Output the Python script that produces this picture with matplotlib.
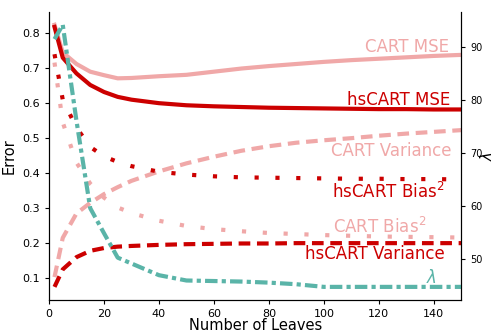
import numpy as np
import matplotlib
matplotlib.use("Agg")
from matplotlib import pyplot as plt

# number of leaves
leaves = [2, 5, 10, 15, 20, 25, 30, 40, 50, 60, 70, 80, 90, 100, 110, 120, 130, 140, 150]

cart_mse = [0.824, 0.745, 0.712, 0.690, 0.680, 0.671, 0.672, 0.677, 0.681, 0.690,
            0.699, 0.706, 0.712, 0.718, 0.723, 0.727, 0.731, 0.735, 0.738]
hscart_mse = [0.818, 0.730, 0.685, 0.652, 0.632, 0.618, 0.610, 0.600, 0.594, 0.591,
              0.589, 0.587, 0.586, 0.585, 0.584, 0.583, 0.583, 0.582, 0.582]
cart_var = [0.103, 0.215, 0.285, 0.315, 0.340, 0.360, 0.378, 0.405, 0.428, 0.447,
            0.464, 0.477, 0.487, 0.494, 0.500, 0.507, 0.513, 0.518, 0.523]
hscart_var = [0.075, 0.125, 0.160, 0.178, 0.186, 0.190, 0.192, 0.195, 0.197, 0.198,
              0.199, 0.199, 0.200, 0.200, 0.200, 0.200, 0.200, 0.200, 0.200]
cart_bias = [0.716, 0.545, 0.430, 0.370, 0.330, 0.302, 0.286, 0.264, 0.249, 0.240,
             0.234, 0.229, 0.226, 0.223, 0.221, 0.219, 0.218, 0.217, 0.216]
hscart_bias = [0.740, 0.610, 0.530, 0.475, 0.448, 0.432, 0.420, 0.404, 0.396, 0.391,
               0.388, 0.387, 0.386, 0.385, 0.384, 0.384, 0.383, 0.383, 0.382]
lam = [91.4, 94.1, 76.0, 59.6, 54.9, 50.3, 49.2, 47.0, 46.0, 45.9,
       45.8, 45.6, 45.3, 44.8, 44.8, 44.8, 44.8, 44.8, 44.8]

light = '#f0a8a8'
dark = '#cc0000'
teal = '#5ab4a8'

fig = plt.figure(figsize=(4.93, 3.31), dpi=100)
ax1 = fig.add_axes([0.0994, 0.0937, 0.8363, 0.871])
ax2 = ax1.twinx()

dotted = (0, (1, 4))
dashed = (0, (2.8, 1.6))

ax1.plot(leaves, cart_mse, color=light, lw=3)
ax1.plot(leaves, hscart_mse, color=dark, lw=3)
ax1.plot(leaves, cart_var, color=light, lw=3, linestyle=dashed)
ax1.plot(leaves, hscart_var, color=dark, lw=3, linestyle=dashed)
ax1.plot(leaves, cart_bias, color=light, lw=3, linestyle=dotted)
ax1.plot(leaves, hscart_bias, color=dark, lw=3, linestyle=dotted)
ax2.plot(leaves, lam, color=teal, lw=3, linestyle=(0, (3, 1, 1, 1)))

ax1.set_xlim(0, 150)
ax1.set_xlabel('Number of Leaves', fontsize=10.5, labelpad=-1)
ax1.set_ylabel('Error', fontsize=10.5, labelpad=4)
ax2.set_ylabel(r'$\lambda$', fontsize=10.5, labelpad=-3)
ax1.tick_params(labelsize=8, length=3)
ax2.tick_params(labelsize=7, length=3)

for ax in (ax1, ax2):
    ax.spines['top'].set_visible(False)

# curve labels
txt = dict(fontsize=12, ha='right', va='baseline')
ax1.text(145.5, 0.7456, 'CART MSE', color=light, **txt)
ax1.text(146.1, 0.5937, 'hsCART MSE', color=dark, **txt)
ax1.text(146.3, 0.4493, 'CART Variance', color=light, **txt)
ax1.text(144.0, 0.329, r'hsCART Bias$^2$', color=dark, **txt)
ax1.text(137.3, 0.2298, r'CART Bias$^2$', color=light, **txt)
ax1.text(144.0, 0.1533, 'hsCART Variance', color=dark, **txt)
ax1.text(141.0, 0.0854, r'$\lambda$', color=teal, **txt)

fig.savefig('out.png', dpi=100)
